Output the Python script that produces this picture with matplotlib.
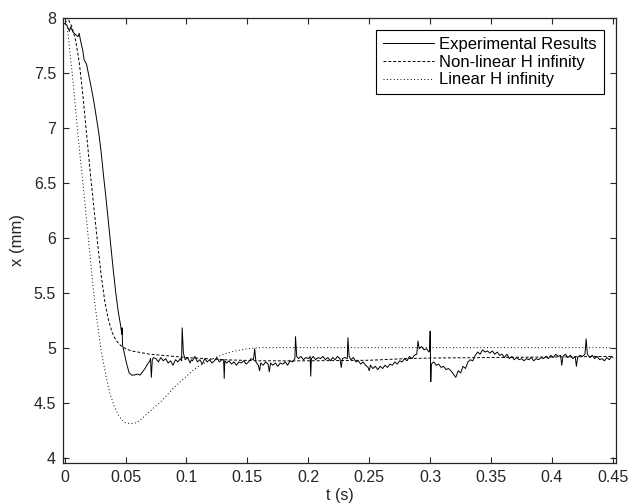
import matplotlib
matplotlib.use("Agg")
import matplotlib.pyplot as plt

plt.rcParams['font.family'] = ['Liberation Sans', 'DejaVu Sans']

# Experimental results
exp_t = [0, 0.002, 0.004, 0.005, 0.007, 0.009, 0.011, 0.012, 0.013, 0.015, 0.016, 0.018,
         0.020, 0.022, 0.024, 0.026, 0.028, 0.030, 0.032, 0.034, 0.036, 0.038, 0.040,
         0.042, 0.044, 0.046, 0.0470, 0.0472, 0.0476, 0.049, 0.051, 0.053, 0.055, 0.057,
         0.060, 0.062, 0.064, 0.066, 0.068, 0.070, 0.0705, 0.0712, 0.072, 0.073,
         0.075, 0.077, 0.079, 0.081, 0.083, 0.085, 0.087, 0.089, 0.091, 0.093, 0.095, 0.096,
         0.0965, 0.0975, 0.099, 0.101, 0.103, 0.104,
         0.105, 0.107, 0.109, 0.111, 0.113, 0.115, 0.117, 0.119, 0.121, 0.123, 0.125, 0.127,
         0.129, 0.1305, 0.131, 0.1315, 0.133, 0.135, 0.137, 0.139, 0.141, 0.143, 0.145, 0.147,
         0.149, 0.151, 0.153, 0.155, 0.156, 0.157, 0.159, 0.160, 0.161, 0.163, 0.165, 0.167,
         0.168, 0.169, 0.171, 0.173, 0.175, 0.177, 0.179, 0.181, 0.183, 0.185, 0.187, 0.189,
         0.1895, 0.1905, 0.192, 0.194, 0.196, 0.198, 0.200, 0.2015, 0.202, 0.2025, 0.204, 0.206,
         0.208, 0.210, 0.212, 0.214, 0.216, 0.218, 0.220, 0.222, 0.224, 0.226, 0.227, 0.228,
         0.230, 0.232, 0.2325, 0.2335, 0.235, 0.237, 0.239, 0.241, 0.243, 0.245, 0.247, 0.249,
         0.250, 0.251, 0.253, 0.255, 0.257, 0.259, 0.261, 0.263, 0.265, 0.267, 0.269, 0.271,
         0.273, 0.275, 0.277, 0.279, 0.281, 0.283, 0.285, 0.287, 0.289, 0.290, 0.291, 0.293,
         0.295, 0.297, 0.299, 0.2995, 0.300, 0.3005, 0.301, 0.303, 0.305, 0.307, 0.309, 0.311,
         0.313, 0.315, 0.317, 0.319, 0.321, 0.323, 0.325, 0.327, 0.329, 0.331, 0.333, 0.335,
         0.337, 0.339, 0.341, 0.343, 0.345, 0.347, 0.349, 0.351, 0.353, 0.355, 0.357, 0.359,
         0.361, 0.363, 0.365, 0.367, 0.369, 0.371, 0.373, 0.375, 0.377, 0.379, 0.381, 0.383,
         0.385, 0.387, 0.389, 0.391, 0.393, 0.395, 0.397, 0.399, 0.401, 0.403, 0.405, 0.407,
         0.408, 0.409, 0.411, 0.413, 0.415, 0.417, 0.419, 0.420, 0.421, 0.423, 0.425, 0.427,
         0.428, 0.429, 0.431, 0.433, 0.435, 0.437, 0.439, 0.441, 0.443, 0.445, 0.447, 0.449,
         0.450]
exp_x = [7.95, 7.93, 7.88, 7.92, 7.87, 7.85, 7.83, 7.86, 7.80, 7.70, 7.62, 7.58,
         7.47, 7.36, 7.24, 7.10, 6.96, 6.78, 6.56, 6.36, 6.14, 5.93, 5.70,
         5.50, 5.33, 5.20, 5.12, 5.18, 5.02, 4.95, 4.85, 4.77, 4.75, 4.75,
         4.76, 4.75, 4.78, 4.81, 4.85, 4.88, 4.90, 4.73, 4.89, 4.91,
         4.90, 4.87, 4.91, 4.88, 4.90, 4.86, 4.88, 4.84, 4.89, 4.87, 4.90, 4.88,
         5.18, 4.95, 4.89, 4.91, 4.86, 4.89,
         4.88, 4.92, 4.87, 4.89, 4.85, 4.90, 4.87, 4.89, 4.86, 4.88, 4.91, 4.87,
         4.89, 4.89, 4.72, 4.88, 4.86, 4.88, 4.85, 4.87, 4.84, 4.87, 4.86, 4.88,
         4.85, 4.87, 4.90, 4.89, 4.99, 4.87, 4.84, 4.79, 4.86, 4.84, 4.87, 4.85,
         4.78, 4.86, 4.84, 4.86, 4.83, 4.86, 4.85, 4.87, 4.84, 4.88, 4.87, 4.90,
         5.10, 4.92, 4.90, 4.92, 4.89, 4.91, 4.90, 4.92, 4.74, 4.90, 4.92, 4.89,
         4.91, 4.90, 4.92, 4.89, 4.91, 4.88, 4.91, 4.89, 4.92, 4.90, 4.82, 4.90,
         4.91, 4.90, 5.09, 4.92, 4.89, 4.91, 4.87, 4.88, 4.85, 4.87, 4.84, 4.82,
         4.79, 4.84, 4.81, 4.83, 4.80, 4.83, 4.81, 4.84, 4.82, 4.85, 4.84, 4.87,
         4.85, 4.88, 4.87, 4.90, 4.88, 4.92, 4.90, 4.93, 4.94, 5.06, 4.99, 5.01,
         4.98, 4.99, 4.96, 4.97, 5.15, 4.69, 4.85, 4.87, 4.84, 4.85, 4.82, 4.83,
         4.80, 4.81, 4.79, 4.76, 4.73, 4.79, 4.77, 4.83, 4.81, 4.87, 4.89, 4.88,
         4.93, 4.96, 4.94, 4.98, 4.96, 4.97, 4.95, 4.97, 4.94, 4.96, 4.93, 4.94,
         4.91, 4.94, 4.90, 4.92, 4.89, 4.91, 4.89, 4.90, 4.88, 4.90, 4.89, 4.91,
         4.88, 4.90, 4.89, 4.91, 4.90, 4.92, 4.90, 4.93, 4.91, 4.94, 4.92, 4.93,
         4.84, 4.92, 4.94, 4.91, 4.93, 4.90, 4.92, 4.83, 4.91, 4.93, 4.92, 4.94,
         5.08, 4.94, 4.91, 4.93, 4.90, 4.92, 4.89, 4.90, 4.88, 4.91, 4.89, 4.92,
         4.91]

# Non-linear H infinity
nl_t = [0, 0.003, 0.006, 0.009, 0.012, 0.015, 0.018, 0.021, 0.024, 0.027, 0.030, 0.033,
        0.036, 0.039, 0.042, 0.046, 0.050, 0.055, 0.060, 0.070, 0.080, 0.100, 0.130,
        0.160, 0.200, 0.250, 0.280, 0.300, 0.350, 0.400, 0.450]
nl_x = [8.0, 7.99, 7.92, 7.80, 7.60, 7.30, 6.95, 6.60, 6.28, 5.96, 5.66, 5.42,
        5.25, 5.14, 5.07, 5.02, 4.99, 4.97, 4.96, 4.94, 4.93, 4.91, 4.89,
        4.88, 4.88, 4.885, 4.90, 4.905, 4.91, 4.915, 4.92]

# Linear H infinity
lin_t = [0, 0.001, 0.002, 0.003, 0.0073, 0.011, 0.0155, 0.0205, 0.0245, 0.030, 0.034,
         0.037, 0.041, 0.045, 0.049, 0.053, 0.057, 0.061, 0.065, 0.070, 0.075, 0.080,
         0.085, 0.090, 0.095, 0.100, 0.105, 0.110, 0.115, 0.120, 0.126, 0.133, 0.140,
         0.150, 0.160, 0.175, 0.450]
lin_x = [8.0, 7.98, 7.93, 7.84, 7.38, 6.93, 6.45, 5.88, 5.43, 4.97, 4.74,
         4.59, 4.46, 4.37, 4.32, 4.31, 4.31, 4.33, 4.37, 4.42, 4.47, 4.52,
         4.58, 4.64, 4.69, 4.74, 4.79, 4.83, 4.86, 4.89, 4.92, 4.95, 4.97,
         4.99, 5.0, 5.0, 5.0]

labels = ['Experimental Results', 'Non-linear H infinity', 'Linear H infinity']
x_ticks = [0, 0.05, 0.1, 0.15, 0.2, 0.25, 0.3, 0.35, 0.4, 0.45]
x_tick_labels = ['0', '0.05', '0.1', '0.15', '0.2', '0.25', '0.3', '0.35', '0.4', '0.45']
y_ticks = [4, 4.5, 5, 5.5, 6, 6.5, 7, 7.5, 8]
y_tick_labels = ['4', '4.5', '5', '5.5', '6', '6.5', '7', '7.5', '8']

fig = plt.figure(figsize=(6.3, 5.03), dpi=100)
ax = fig.add_axes([63/630, 1 - 463/503, (616 - 63)/630, (463 - 18)/503])

ax.plot(exp_t, exp_x, color='k', linestyle='-', linewidth=0.7, label=labels[0])
ax.plot(nl_t, nl_x, color='k', linestyle=(0, (3, 2)), linewidth=0.7, label=labels[1])
ax.plot(lin_t, lin_x, color='k', linestyle=(0, (1, 2.5)), linewidth=0.7, label=labels[2])

ax.set_xlim(-0.0013, 0.4525)
ax.set_ylim(3.95, 8)
ax.set_xticks(x_ticks)
ax.set_xticklabels(x_tick_labels)
ax.set_yticks(y_ticks)
ax.set_yticklabels(y_tick_labels)
ax.tick_params(direction='in', top=True, right=True, labelsize=11.5, length=4, width=0.8,
               colors='#262626', pad=5)
for s in ax.spines.values():
    s.set_linewidth(0.9)
    s.set_color('#262626')

ax.set_xlabel('t (s)', fontsize=11.5, labelpad=2, color='#262626')
ax.set_ylabel('x (mm)', fontsize=12, labelpad=6, color='#262626')

leg = ax.legend(loc='upper right', bbox_to_anchor=(0.978, 0.973), borderaxespad=0,
                fontsize=12, frameon=True, fancybox=False, edgecolor='k', framealpha=1,
                handlelength=3.05, handletextpad=0.3, labelspacing=0.16, borderpad=0.42)
leg.get_frame().set_linewidth(0.8)

fig.savefig('out.png', dpi=100)
